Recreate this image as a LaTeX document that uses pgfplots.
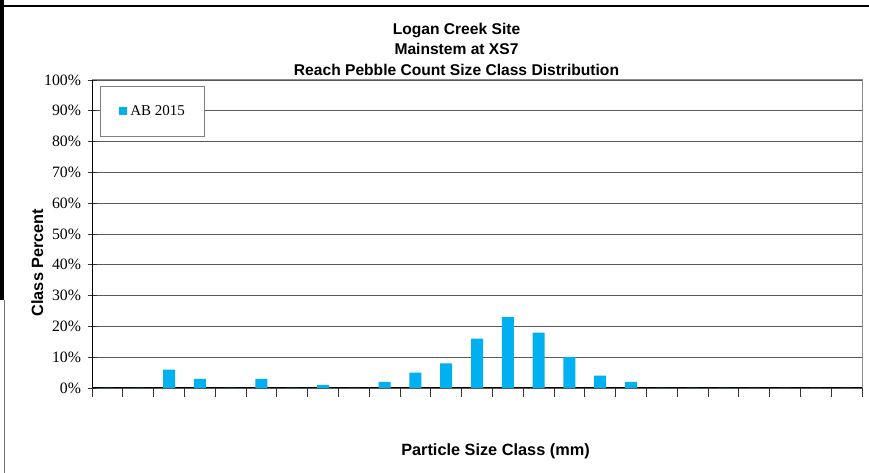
\documentclass[border=0pt]{standalone}
\usepackage{fontspec}
\setmainfont{Liberation Serif}
\setsansfont{Liberation Sans}
\usepackage{pgfplots}
\pgfplotsset{compat=1.18}
\definecolor{barcyan}{HTML}{00B0F0}
\begin{document}
\begin{tikzpicture}[x=1pt,y=1pt]
\useasboundingbox (0,0) rectangle (869,473);
% outer frame remnants
\fill[black] (0,173) rectangle (4,473);
\draw[black!55,line width=1pt] (4.5,0) -- (4.5,173);
\draw[black,line width=1.5pt] (4,467) -- (869,467);
\begin{axis}[
  at={(92pt,85pt)}, anchor=south west,
  scale only axis, width=770pt, height=308pt,
  xmin=-0.5, xmax=24.5, ymin=0, ymax=100,
  axis lines=left, axis line style={-, black, line width=1pt},
  xtick={-0.5,0.5,...,24.5}, xticklabels={},
  ytick={0,10,...,100},
  yticklabel={\pgfmathprintnumber{\tick}\%},
  /pgf/number format/assume math mode=true,
  tick label style={font=\fontsize{15.8}{18}\selectfont},
  yticklabel style={xshift=-3pt},
  tick align=center, major tick length=9pt,
  tick style={black!80, line width=0.8pt},
  ymajorgrids, grid style={black!65, line width=0.9pt},
  ybar, bar width=12pt,
  legend style={at={(0.0104,0.9805)}, anchor=north west,
    draw=black!50, line width=0.8pt, inner xsep=19pt, inner ysep=19.5pt,
    font=\fontsize{15}{17}\selectfont,
    nodes={inner sep=0pt}, column sep=3pt},
]
\addplot[fill=barcyan, draw=none,
  legend image code/.code={\fill[barcyan] (0pt,-3pt) rectangle (8pt,5pt);}]
  coordinates {(0,0) (1,0) (2,6) (3,3) (4,0) (5,3) (6,0) (7,1) (8,0) (9,2)
   (10,5) (11,8) (12,16) (13,23) (14,18) (15,10) (16,4) (17,2) (18,0) (19,0)
   (20,0) (21,0) (22,0) (23,0) (24,0)};
\addlegendentry{AB 2015}
\end{axis}
\draw[black!45, line width=1pt] (92,393) -- (862,393) -- (862,85);
\begin{scope}[every node/.style={font=\sffamily\bfseries\fontsize{15.6}{19}\selectfont, inner sep=0pt}]
\node[anchor=base] at (456.5,438) {Logan Creek Site};
\node[anchor=base] at (456.5,418) {Mainstem at XS7};
\node[anchor=base] at (456.5,397) {Reach Pebble Count Size Class Distribution};
\end{scope}
\begin{scope}[every node/.style={font=\sffamily\bfseries\fontsize{16.3}{19}\selectfont, inner sep=0pt}]
\node[anchor=base] at (495.5,17) {Particle Size Class (mm)};
\node[anchor=base, rotate=90] at (43,210.5) {Class Percent};
\end{scope}
\end{tikzpicture}
\end{document}
